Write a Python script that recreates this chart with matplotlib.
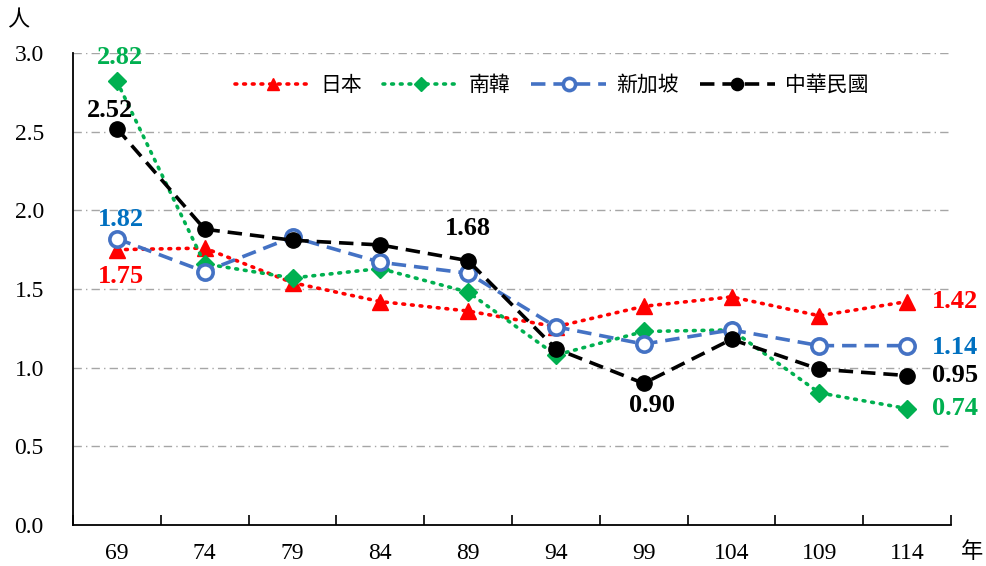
import matplotlib
matplotlib.use("Agg")
import matplotlib.pyplot as plt
import numpy as np

years = ["69", "74", "79", "84", "89", "94", "99", "104", "109", "114"]
series_names = ["日本", "南韓", "新加坡", "中華民國"]
japan = [1.75, 1.76, 1.54, 1.42, 1.36, 1.26, 1.39, 1.45, 1.33, 1.42]
korea = [2.82, 1.66, 1.57, 1.63, 1.48, 1.08, 1.23, 1.24, 0.84, 0.74]
singapore = [1.82, 1.61, 1.83, 1.67, 1.60, 1.26, 1.15, 1.24, 1.14, 1.14]
taiwan = [2.52, 1.88, 1.81, 1.78, 1.68, 1.12, 0.90, 1.18, 0.99, 0.95]
y_ticks = [0.0, 0.5, 1.0, 1.5, 2.0, 2.5, 3.0]

serif = ["Liberation Serif", "DejaVu Serif"]
cjk = ["Noto Sans CJK TC", "DejaVu Sans"]

fig = plt.figure(figsize=(9.86, 5.66), dpi=100)
ax = fig.add_axes([73/986, 1-525/566, (951-73)/986, (525-53)/566])

x = np.arange(len(years))
RED = "#FF0000"
GREEN = "#00B050"
BLUE = "#4472C4"
LBLUE = "#0070C0"

ax.plot(x, japan, linestyle=(0, (0.5, 1.9)), dash_capstyle="round", color=RED, lw=2.6,
        marker="^", markersize=11, markerfacecolor=RED, markeredgecolor=RED, label=series_names[0], zorder=3)
ax.plot(x, korea, linestyle=(0, (0.5, 1.9)), dash_capstyle="round", color=GREEN, lw=2.6,
        marker="D", markersize=9, markerfacecolor=GREEN, markeredgecolor=GREEN, label=series_names[1], zorder=3)
ax.plot(x, singapore, linestyle=(0, (4, 2.2)), color=BLUE, lw=2.6,
        marker="o", markersize=11, markerfacecolor="white", markeredgecolor=BLUE, markeredgewidth=2.6,
        label=series_names[2], zorder=4)
ax.plot(x, taiwan, linestyle=(0, (4, 2.2)), color="black", lw=2.6,
        marker="o", markersize=11, markerfacecolor="black", markeredgecolor="black",
        label=series_names[3], zorder=5)

ax.set_xlim(-0.5, len(years) - 0.5)
ax.set_ylim(0, 3.0)
ax.set_yticks(y_ticks)
ax.set_yticklabels([f"{v:.1f}" for v in y_ticks], fontfamily=serif, fontsize=17)
ax.tick_params(axis="y", length=0, pad=21)
ax.set_xticks(x)
ax.set_xticklabels(years, fontfamily=serif, fontsize=17)
ax.set_xticks(np.arange(len(years) + 1) - 0.5, minor=True)
ax.tick_params(axis="x", which="major", length=0, pad=13)
ax.tick_params(axis="x", which="minor", length=7, width=1.2, direction="in")

for v in y_ticks[1:]:
    ax.axhline(v, color="#A6A6A6", lw=1.0, linestyle=(0, (6, 3, 1, 3)), zorder=1)

for s in ["top", "right"]:
    ax.spines[s].set_visible(False)
ax.spines["left"].set_linewidth(1.3)
ax.spines["bottom"].set_linewidth(1.3)

lab = dict(fontfamily=serif, fontsize=19, fontweight="bold")
def ann(txt, xi, yv, dx, dy, color, ha="center", va="center"):
    ax.annotate(txt, (xi, yv), xytext=(dx, dy), textcoords="offset points",
                ha=ha, va=va, color=color, zorder=6, **lab)

ann(f"{korea[0]:.2f}", 0, korea[0], 2, 17, GREEN)
ann(f"{taiwan[0]:.2f}", 0, taiwan[0], -5, 13, "black")
ann(f"{singapore[0]:.2f}", 0, singapore[0], 3, 14, LBLUE)
ann(f"{japan[0]:.2f}", 0, japan[0], 3, -19, RED)
ann(f"{taiwan[4]:.2f}", 4, taiwan[4], 0, 23, "black")
ann(f"{taiwan[6]:.2f}", 6, taiwan[6], 6, -16, "black")
ann(f"{japan[9]:.2f}", 9, japan[9], 18, 0, RED, ha="left")
ann(f"{singapore[9]:.2f}", 9, singapore[9], 18, -1, LBLUE, ha="left")
ann(f"{taiwan[9]:.2f}", 9, taiwan[9], 18, 0, "black", ha="left")
ann(f"{korea[9]:.2f}", 9, korea[9], 18, 0, GREEN, ha="left")

leg = ax.legend(loc="center", bbox_to_anchor=(552/986, 1-85/566), bbox_transform=fig.transFigure,
                ncol=4, frameon=False, prop={"family": cjk, "size": 15},
                handlelength=3.6, handletextpad=0.5, columnspacing=1.0, markerscale=0.8)

fig.text(18/986, 1-20/566, "人", fontfamily=cjk, fontsize=16, ha="center", va="center")
fig.text(972/986, 1-551/566, "年", fontfamily=cjk, fontsize=16, ha="center", va="center")

fig.savefig("out.png", dpi=100)
